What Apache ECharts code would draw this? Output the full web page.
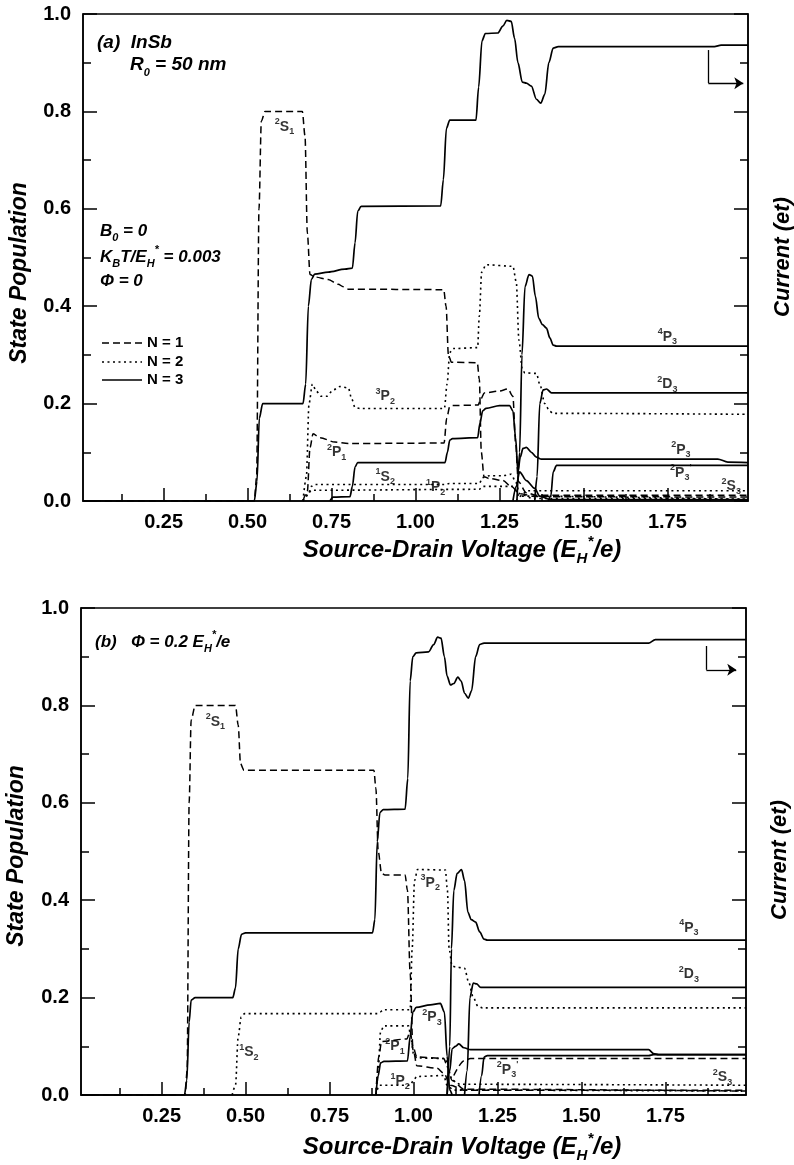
<!DOCTYPE html>
<html><head><meta charset="utf-8">
<script src="https://cdn.jsdelivr.net/npm/echarts@6/dist/echarts.min.js"></script>
<style>html,body{margin:0;padding:0;background:#fff}#c{width:794px;height:1165px}</style>
</head><body><div id="c"></div>
<script>
// ---------- tick labels ----------
const xMajorTicks = [0.25, 0.5, 0.75, 1.0, 1.25, 1.5, 1.75];
const xMinorTicks = [0.125, 0.375, 0.625, 0.875, 1.125, 1.375, 1.625, 1.875];
const xRange = [0.01, 1.99];
const yRange = [0, 1];

// ---------- panel (a) ----------
const currentA = [[0.01,0],[0.52,0],[0.528,0.04],[0.535,0.17],[0.545,0.2],[0.555,0.2],[0.665,0.2],[0.673,0.24],[0.681,0.4],[0.69,0.455],[0.70,0.466],[0.74,0.47],[0.79,0.476],[0.812,0.478],[0.82,0.53],[0.828,0.595],[0.838,0.605],[1.075,0.606],[1.083,0.66],[1.092,0.765],[1.102,0.782],[1.18,0.782],[1.188,0.85],[1.198,0.945],[1.208,0.96],[1.245,0.961],[1.26,0.975],[1.272,0.987],[1.285,0.985],[1.295,0.95],[1.305,0.9],[1.318,0.86],[1.33,0.858],[1.345,0.852],[1.36,0.825],[1.373,0.817],[1.385,0.835],[1.397,0.9],[1.41,0.93],[1.425,0.933],[1.89,0.933],[1.91,0.936],[1.99,0.936]];
const arrowA = [[1.872,0.926],[1.872,0.858],[1.976,0.858]];
// N = 1 (dashed)
const dashA1 = [[0.01,0],[0.52,0],[0.527,0.05],[0.534,0.6],[0.541,0.78],[0.552,0.8],[0.663,0.8],[0.671,0.75],[0.678,0.55],[0.686,0.465],[0.70,0.46],[0.74,0.455],[0.77,0.445],[0.785,0.44],[0.80,0.435],[1.084,0.434],[1.091,0.4],[1.098,0.3],[1.107,0.285],[1.184,0.284],[1.19,0.25],[1.196,0.1],[1.204,0.05],[1.22,0.046],[1.26,0.042],[1.285,0.03],[1.31,0.015],[1.36,0.009],[1.99,0.008]];
const dashA2 = [[0.665,0],[0.678,0.02],[0.686,0.11],[0.695,0.138],[0.715,0.13],[0.76,0.121],[0.80,0.118],[1.085,0.119],[1.093,0.17],[1.102,0.194],[1.11,0.196],[1.186,0.197],[1.195,0.21],[1.205,0.222],[1.25,0.226],[1.275,0.23],[1.29,0.215],[1.298,0.12],[1.306,0.04],[1.33,0.017],[1.36,0.012],[1.99,0.012]];
// N = 2 (dotted)
const dotA1 = [[0.665,0],[0.675,0.05],[0.683,0.2],[0.693,0.24],[0.705,0.225],[0.72,0.215],[0.735,0.215],[0.755,0.228],[0.775,0.235],[0.80,0.232],[0.81,0.21],[0.82,0.192],[0.835,0.19],[1.086,0.19],[1.094,0.24],[1.102,0.305],[1.112,0.313],[1.185,0.315],[1.19,0.38],[1.197,0.47],[1.21,0.485],[1.29,0.482],[1.30,0.45],[1.308,0.33],[1.318,0.27],[1.326,0.263],[1.36,0.262],[1.37,0.24],[1.385,0.2],[1.40,0.184],[1.41,0.18],[1.99,0.178]];
const dotA2 = [[0.665,0],[0.68,0.012],[0.69,0.03],[0.70,0.034],[1.09,0.034],[1.10,0.036],[1.19,0.036],[1.20,0.048],[1.22,0.052],[1.26,0.052],[1.285,0.055],[1.298,0.04],[1.31,0.015],[1.35,0.005],[1.99,0.004]];
const dotA3 = [[0.665,0],[0.68,0.015],[0.69,0.022],[1.19,0.024],[1.20,0.03],[1.29,0.03],[1.31,0.01],[1.99,0.003]];
const dotA4 = [[1.30,0],[1.318,0.012],[1.33,0.021],[1.99,0.021]];
// N = 3 (solid)
const solA1 = [[0.745,0],[0.755,0.008],[0.805,0.009],[0.812,0.03],[0.82,0.07],[0.828,0.079],[1.088,0.079],[1.095,0.1],[1.102,0.125],[1.11,0.128],[1.185,0.13],[1.192,0.16],[1.2,0.185],[1.21,0.19],[1.25,0.196],[1.28,0.196],[1.29,0.185],[1.298,0.13],[1.305,0.06],[1.312,0.09],[1.32,0.108],[1.33,0.11],[1.345,0.1],[1.36,0.09],[1.375,0.086],[1.90,0.086],[1.93,0.08],[1.99,0.079]];
const solA4P3 = [[1.302,0],[1.31,0.1],[1.317,0.3],[1.326,0.44],[1.338,0.465],[1.348,0.462],[1.357,0.42],[1.367,0.375],[1.378,0.362],[1.39,0.355],[1.40,0.335],[1.41,0.32],[1.42,0.318],[1.99,0.318]];
const solA2D3 = [[1.355,0],[1.362,0.05],[1.37,0.2],[1.38,0.228],[1.39,0.23],[1.405,0.222],[1.99,0.222]];
const solA2P3p = [[1.395,0],[1.403,0.01],[1.41,0.06],[1.42,0.073],[1.99,0.073]];
const solA5 = [[1.29,0],[1.30,0.03],[1.31,0.06],[1.33,0.042],[1.355,0.026],[1.37,0.01],[1.40,0.003],[1.99,0.003]];

// ---------- panel (b) ----------
const currentB = [[0.01,0],[0.318,0],[0.325,0.03],[0.332,0.15],[0.338,0.195],[0.35,0.2],[0.462,0.2],[0.47,0.22],[0.478,0.3],[0.488,0.33],[0.50,0.333],[0.878,0.333],[0.885,0.36],[0.892,0.52],[0.90,0.58],[0.91,0.586],[0.975,0.587],[0.983,0.65],[0.99,0.85],[0.998,0.9],[1.008,0.908],[1.045,0.91],[1.06,0.925],[1.072,0.94],[1.082,0.938],[1.092,0.9],[1.10,0.86],[1.11,0.842],[1.12,0.845],[1.132,0.858],[1.142,0.85],[1.152,0.825],[1.163,0.815],[1.173,0.83],[1.185,0.9],[1.197,0.925],[1.21,0.928],[1.70,0.928],[1.72,0.935],[1.99,0.935]];
const arrowB = [[1.872,0.922],[1.872,0.873],[1.961,0.873]];
const dashB1 = [[0.01,0],[0.32,0],[0.326,0.05],[0.332,0.6],[0.338,0.77],[0.35,0.8],[0.47,0.8],[0.478,0.76],[0.485,0.68],[0.495,0.667],[0.882,0.667],[0.888,0.63],[0.895,0.5],[0.905,0.455],[0.915,0.452],[0.975,0.452],[0.982,0.42],[0.99,0.25],[0.998,0.1],[1.01,0.078],[1.09,0.075],[1.10,0.06],[1.115,0.03],[1.15,0.012],[1.99,0.008]];
const dashB2 = [[0.888,0],[0.897,0.08],[0.905,0.11],[0.98,0.115],[0.99,0.13],[1.0,0.09],[1.01,0.06],[1.07,0.055],[1.09,0.045],[1.11,0.02],[1.15,0.01],[1.99,0.01]];
const dashB3 = [[1.12,0.04],[1.15,0.07],[1.17,0.075],[1.99,0.075]];
const dotB1 = [[0.46,0],[0.47,0.02],[0.478,0.12],[0.487,0.16],[0.497,0.167],[0.892,0.167],[0.90,0.17],[0.91,0.175],[0.99,0.175],[0.996,0.3],[1.003,0.44],[1.012,0.463],[1.095,0.462],[1.101,0.42],[1.106,0.3],[1.115,0.265],[1.125,0.263],[1.152,0.26],[1.165,0.23],[1.178,0.2],[1.192,0.182],[1.205,0.179],[1.99,0.179]];
const dotB2 = [[0.888,0],[0.895,0.05],[0.902,0.13],[0.912,0.142],[0.985,0.142],[0.992,0.12],[1.0,0.085],[1.01,0.076],[1.095,0.075],[1.105,0.05],[1.115,0.03],[1.14,0.022],[1.99,0.02]];
const dotB3 = [[0.888,0],[0.898,0.02],[0.99,0.02],[1.0,0.03],[1.01,0.038],[1.09,0.04],[1.10,0.02],[1.12,0.01],[1.99,0.008]];
const solB1 = [[0.888,0],[0.895,0.04],[0.902,0.066],[0.912,0.069],[0.982,0.07],[0.99,0.12],[0.998,0.17],[1.008,0.18],[1.05,0.185],[1.08,0.188],[1.092,0.17],[1.10,0.08],[1.108,0.01],[1.115,0]];
const solB2P3 = [[1.10,0],[1.108,0.05],[1.115,0.095],[1.125,0.1],[1.135,0.105],[1.15,0.097],[1.17,0.093],[1.70,0.093],[1.715,0.085],[1.73,0.083],[1.99,0.083]];
const solB4P3 = [[1.10,0],[1.108,0.1],[1.113,0.3],[1.12,0.42],[1.13,0.455],[1.143,0.463],[1.152,0.44],[1.162,0.375],[1.172,0.36],[1.185,0.355],[1.197,0.335],[1.21,0.32],[1.22,0.318],[1.99,0.318]];
const solB2D3 = [[1.152,0],[1.16,0.05],[1.168,0.2],[1.178,0.23],[1.188,0.228],[1.20,0.221],[1.99,0.221]];
const solB2P3p = [[1.195,0],[1.203,0.04],[1.21,0.078],[1.22,0.081],[1.70,0.081],[1.715,0.083],[1.99,0.083]];

// ---------- curve labels: [x, y, sup, letter, sub, prime] ----------
const labelsA = [[0.61,0.768,'2','S','1',''],[0.91,0.215,'3','P','2',''],[0.765,0.10,'2','P','1',''],[0.91,0.05,'1','S','2',''],[1.06,0.028,'1','P','2',''],[1.75,0.337,'4','P','3',''],[1.75,0.24,'2','D','3',''],[1.79,0.105,'2','P','3',''],[1.79,0.058,'2','P','3',"'"],[1.94,0.03,'2','S','3','']];
const labelsB = [[0.41,0.766,'2','S','1',''],[0.51,0.087,'1','S','2',''],[0.945,0.10,'2','P','1',''],[0.96,0.028,'1','P','2',''],[1.05,0.436,'3','P','2',''],[1.055,0.16,'2','P','3',''],[1.82,0.343,'4','P','3',''],[1.82,0.248,'2','D','3',''],[1.28,0.052,'2','P','3',"'"],[1.92,0.036,'2','S','3','']];

const FONT = '"Liberation Sans", Arial, Helvetica, sans-serif';
const STY = {
  solid: {color:'#000', width:1.7, type:'solid'},
  dash:  {color:'#000', width:1.5, type:[7,4]},
  dot:   {color:'#000', width:1.6, type:[2,3.5]}
};

function ln(data, style, xi, yi, extra) {
  return Object.assign({type:'line', data, xAxisIndex:xi, yAxisIndex:yi, symbol:'none', showSymbol:false,
    smooth:0.3, smoothMonotone:'x', lineStyle:STY[style], silent:true, animation:false,
    z: style==='solid' ? 4 : 3}, extra || {});
}
function arrowMark(a) {
  return {silent:true, animation:false, symbolSize:9, label:{show:false},
    lineStyle:{color:'#000', width:1.3, type:'solid'},
    emphasis:{disabled:true},
    data:[[{coord:a[0], symbol:'none'},{coord:a[1], symbol:'none'}],
          [{coord:a[1], symbol:'none'},{coord:a[2], symbol:'arrow'}]]};
}
const labelRich = {
  m:{fontSize:14, fontWeight:'bold', fontFamily:FONT, color:'#000', textBorderWidth:0, lineHeight:19, verticalAlign:'middle'},
  u:{fontSize:9, fontWeight:'bold', fontFamily:FONT, color:'#000', textBorderWidth:0, lineHeight:10, verticalAlign:'top'},
  d:{fontSize:9, fontWeight:'bold', fontFamily:FONT, color:'#000', textBorderWidth:0, lineHeight:10, verticalAlign:'bottom'}
};
function labelSeries(arr, xi, yi) {
  return {type:'scatter', xAxisIndex:xi, yAxisIndex:yi, symbol:'circle', symbolSize:2, silent:true, animation:false, z:10,
    itemStyle:{color:'rgba(0,0,0,0)'},
    data: arr.map(l => ({value:[l[0], l[1]], t:'{u|'+l[2]+'}{m|'+l[3]+'}{d|'+l[4]+'}' + (l[5] ? '{u|'+l[5]+'}' : '')})),
    label:{show:true, position:'inside', color:'#000', textBorderWidth:0, formatter:p => p.data.t, rich:labelRich},
    labelLayout:{hideOverlap:false}};
}

function xAxes(gi) {
  return [
    {gridIndex:gi, type:'value', min:xRange[0], max:xRange[1], position:'bottom',
     axisLine:{show:true, onZero:false, lineStyle:{color:'#000', width:1.5}},
     axisTick:{show:true, inside:true, length:13, customValues:xMajorTicks, lineStyle:{color:'#000', width:1.5}},
     axisLabel:{show:true, customValues:xMajorTicks, formatter:v => v.toFixed(2), color:'#000', fontSize:20, fontWeight:'bold', fontFamily:FONT, margin:11},
     splitLine:{show:false}},
    {gridIndex:gi, type:'value', min:xRange[0], max:xRange[1], position:'bottom',
     axisLine:{show:false, onZero:false},
     axisTick:{show:true, inside:true, length:7, customValues:xMinorTicks, lineStyle:{color:'#000', width:1.5}},
     axisLabel:{show:false}, splitLine:{show:false}}
  ];
}
function yAxes(gi) {
  const base = {gridIndex:gi, type:'value', min:yRange[0], max:yRange[1], interval:0.2,
    axisLine:{show:true, lineStyle:{color:'#000', width:1.5}},
    axisTick:{show:true, inside:true, length:14, lineStyle:{color:'#000', width:1.5}},
    minorTick:{show:true, splitNumber:2, length:8, lineStyle:{color:'#000', width:1.5}},
    splitLine:{show:false}, minorSplitLine:{show:false}};
  return [
    Object.assign({}, base, {position:'left',
      axisLabel:{show:true, formatter:v => v.toFixed(1), color:'#000', fontSize:20, fontWeight:'bold', fontFamily:FONT, margin:12}}),
    Object.assign({}, base, {position:'right', axisLabel:{show:false}})
  ];
}

const titleRich = {
  s:{fontSize:15, fontWeight:'bold', fontStyle:'italic', fontFamily:FONT, fill:'#000', lineHeight:14, verticalAlign:'bottom'},
  p:{fontSize:15, fontWeight:'bold', fontStyle:'italic', fontFamily:FONT, fill:'#000', lineHeight:14, verticalAlign:'top'}
};
const annRich = {
  s:{fontSize:11, fontWeight:'bold', fontStyle:'italic', fontFamily:FONT, fill:'#000', lineHeight:11, verticalAlign:'bottom'},
  p:{fontSize:11, fontWeight:'bold', fontStyle:'italic', fontFamily:FONT, fill:'#000', lineHeight:11, verticalAlign:'top'}
};
function txt(x, y, text, size, rich, extra) {
  return Object.assign({type:'text', x, y, z:20, silent:true,
    style:{text, fill:'#000', font:'italic bold ' + size + 'px ' + FONT,
      textAlign:'left', textVerticalAlign:'middle', rich:rich || {}, lineHeight: size + 8}}, extra || {});
}
function ctxt(x, y, text, size, rot, rich) {
  return {type:'text', x, y, rotation:rot, z:20, silent:true,
    style:{text, fill:'#000', font:'italic bold ' + size + 'px ' + FONT, textAlign:'center', textVerticalAlign:'middle', rich:rich || {}, lineHeight:size + 8}};
}
function legLine(y, dash) {
  return {type:'line', z:20, silent:true, shape:{x1:102, y1:y, x2:142, y2:y},
    style:{stroke:'#000', lineWidth: dash === 'dot' ? 1.6 : 1.5, lineDash: dash === 'dash' ? [7,4] : dash === 'dot' ? [2,3.5] : null}};
}
function legText(y, t) {
  return {type:'text', x:147, y, z:20, silent:true,
    style:{text:t, fill:'#000', font:'bold 15px ' + FONT, textAlign:'left', textVerticalAlign:'middle'}};
}

const chart = echarts.init(document.getElementById('c'), null, {renderer:'canvas'});
chart.setOption({
  animation:false,
  backgroundColor:'#fff',
  grid:[
    {left:83, top:14, width:665, height:487, show:true, borderColor:'#000', borderWidth:1.5, backgroundColor:'transparent'},
    {left:81, top:608, width:665, height:487, show:true, borderColor:'#000', borderWidth:1.5, backgroundColor:'transparent'}
  ],
  xAxis: xAxes(0).concat(xAxes(1)),
  yAxis: yAxes(0).concat(yAxes(1)),
  series:[
    ln(currentA, 'solid', 0, 0, {markLine:arrowMark(arrowA)}),
    ln(dashA1, 'dash', 0, 0), ln(dashA2, 'dash', 0, 0),
    ln(dotA1, 'dot', 0, 0), ln(dotA2, 'dot', 0, 0), ln(dotA3, 'dot', 0, 0), ln(dotA4, 'dot', 0, 0),
    ln(solA1, 'solid', 0, 0), ln(solA4P3, 'solid', 0, 0), ln(solA2D3, 'solid', 0, 0), ln(solA2P3p, 'solid', 0, 0), ln(solA5, 'solid', 0, 0),
    labelSeries(labelsA, 0, 0),
    ln(currentB, 'solid', 2, 2, {markLine:arrowMark(arrowB)}),
    ln(dashB1, 'dash', 2, 2), ln(dashB2, 'dash', 2, 2), ln(dashB3, 'dash', 2, 2),
    ln(dotB1, 'dot', 2, 2), ln(dotB2, 'dot', 2, 2), ln(dotB3, 'dot', 2, 2),
    ln(solB1, 'solid', 2, 2), ln(solB2P3, 'solid', 2, 2), ln(solB4P3, 'solid', 2, 2), ln(solB2D3, 'solid', 2, 2), ln(solB2P3p, 'solid', 2, 2),
    labelSeries(labelsB, 2, 2)
  ],
  graphic:[
    txt(97, 43, '(a)  InSb', 19),
    txt(130, 65, 'R{s|0} = 50 nm', 19, annRich),
    txt(100, 231, 'B{s|0} = 0', 17, annRich),
    txt(100, 257, 'K{s|B}T/E{s|H}{p|*} = 0.003', 17, annRich),
    txt(100, 281, 'Φ = 0', 17),
    legLine(343, 'dash'), legText(343, 'N = 1'),
    legLine(362, 'dot'), legText(362, 'N = 2'),
    legLine(380, 'solid'), legText(380, 'N = 3'),
    txt(95, 642, '(b)   Φ = 0.2 E{s|H}{p|*}/e', 17, annRich),
    ctxt(20, 273, 'State Population', 23, Math.PI/2),
    ctxt(17, 856, 'State Population', 23, Math.PI/2),
    ctxt(783, 257, 'Current (et)', 22, Math.PI/2),
    ctxt(780, 860, 'Current (et)', 22, Math.PI/2),
    ctxt(462, 550, 'Source-Drain Voltage (E{s|H}{p|*}/e)', 24, 0, titleRich),
    ctxt(462, 1147, 'Source-Drain Voltage (E{s|H}{p|*}/e)', 24, 0, titleRich)
  ]
});
</script></body></html>
